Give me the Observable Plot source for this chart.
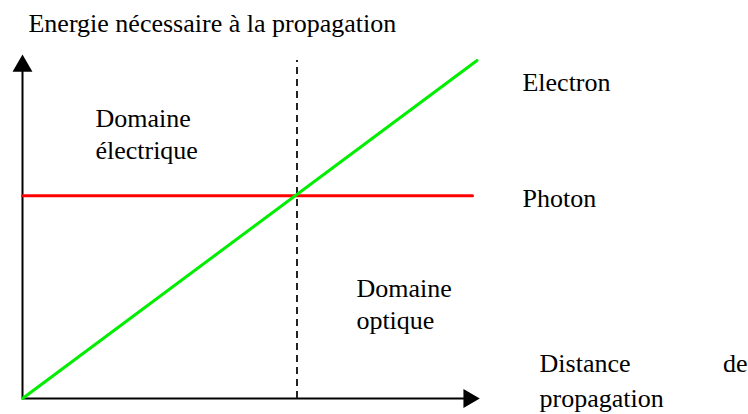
<!DOCTYPE html>
<html>
<head>
<meta charset="utf-8">
<script src="https://cdn.jsdelivr.net/npm/d3@7"></script>
<script src="https://cdn.jsdelivr.net/npm/@observablehq/plot@0.6"></script>
<style>
  html, body { margin: 0; padding: 0; background: #fff; }
</style>
</head>
<body>
<div id="chart"></div>
<script>
// Conceptual data (arbitrary units 0–100)
const electron = [{x: 0, y: 0}, {x: 101, y: 100}];
const photon = [{x: 0, y: 60}, {x: 100, y: 60}];
const boundaryX = 61;          // crossover distance
const boundaryTop = 100;
const axisEnd = 98.6;          // where axis lines stop (arrow heads cover the rest)
const yArrow = [{x: 0, y: 98.4}];
const xArrow = [{x: 99.2, y: 0}];

// Text labels (anchor positions in data units)
const labelsStart = [
  {x: 1.33, y: 108.3, text: "Energie nécessaire à la propagation"},
  {x: 16.2, y: 71.0, text: "Domaine\nélectrique"},
  {x: 74.2, y: 20.7, text: "Domaine\noptique"},
  {x: 111.1, y: 91.1, text: "Electron"},
  {x: 111.1, y: 56.6, text: "Photon"},
  {x: 114.9, y: 7.7, text: "Distance"},
  {x: 114.9, y: -2.66, text: "propagation"}
];
const labelsEnd = [
  {x: 161.1, y: 7.7, text: "de"}
];

const chart = Plot.plot({
  width: 748,
  height: 414,
  marginLeft: 22,
  marginRight: 276,
  marginTop: 60,
  marginBottom: 16,
  x: {domain: [0, 100], axis: null},
  y: {domain: [0, 100], axis: null},
  marks: [
    // axes
    Plot.ruleX([0], {y1: 0, y2: axisEnd, stroke: "#000", strokeWidth: 2}),
    Plot.ruleY([0], {x1: 0, x2: axisEnd, stroke: "#000", strokeWidth: 2}),
    Plot.dot(yArrow, {x: "x", y: "y", symbol: "triangle", r: 7.4, fill: "#000", stroke: null}),
    Plot.dot(xArrow, {x: "x", y: "y", symbol: "triangle", r: 7.0, fill: "#000", stroke: null, rotate: 90}),
    // boundary
    Plot.ruleX([boundaryX], {y1: 0, y2: boundaryTop, stroke: "#222", strokeWidth: 2, strokeDasharray: "7,5"}),
    // series
    Plot.line(photon, {x: "x", y: "y", stroke: "#ff0000", strokeWidth: 3}),
    Plot.line(electron, {x: "x", y: "y", stroke: "#00ee00", strokeWidth: 3}),
    // labels
    Plot.text(labelsStart, {x: "x", y: "y", text: "text", textAnchor: "start", lineAnchor: "bottom", lineHeight: 1.23, fontSize: 26, fontFamily: "Liberation Serif", fill: "#000"}),
    Plot.text(labelsEnd, {x: "x", y: "y", text: "text", textAnchor: "end", lineAnchor: "bottom", fontSize: 26, fontFamily: "Liberation Serif", fill: "#000"})
  ]
});
document.getElementById("chart").appendChild(chart);
</script>
</body>
</html>
